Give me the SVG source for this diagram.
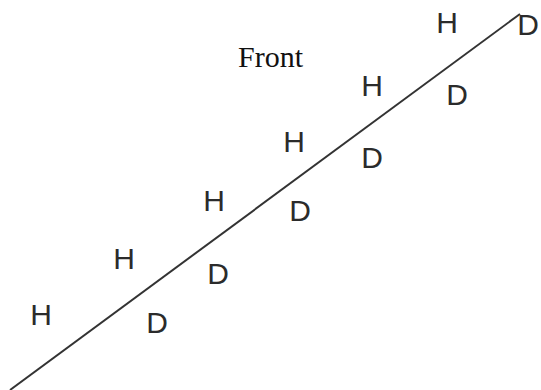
<svg xmlns="http://www.w3.org/2000/svg" width="541" height="390" viewBox="0 0 541 390">
<style>
.lbl{font-family:"Liberation Sans",Arial,sans-serif;font-size:30px;fill:#2b2b2b;text-anchor:middle}
.title{font-family:"Liberation Serif","Times New Roman",serif;font-size:30px;fill:#111}
.conn{stroke:#333;stroke-width:2;fill:none}
</style>
<rect width="541" height="390" fill="#fff"/>
<g id="connectors">
<line class="conn" x1="10" y1="390" x2="520" y2="14"/>
</g>
<g id="front"><text class="title" x="238" y="67">Front</text></g>
<g id="h1"><text class="lbl" x="41" y="325">H</text></g>
<g id="h2"><text class="lbl" x="124" y="269">H</text></g>
<g id="h3"><text class="lbl" x="214" y="211">H</text></g>
<g id="h4"><text class="lbl" x="294" y="152">H</text></g>
<g id="h5"><text class="lbl" x="372" y="96">H</text></g>
<g id="h6"><text class="lbl" x="447" y="33">H</text></g>
<g id="d1"><text class="lbl" x="157" y="333">D</text></g>
<g id="d2"><text class="lbl" x="218" y="284">D</text></g>
<g id="d3"><text class="lbl" x="300" y="221">D</text></g>
<g id="d4"><text class="lbl" x="372" y="168">D</text></g>
<g id="d5"><text class="lbl" x="457" y="105">D</text></g>
<g id="d6"><text class="lbl" x="528" y="35">D</text></g>
</svg>
